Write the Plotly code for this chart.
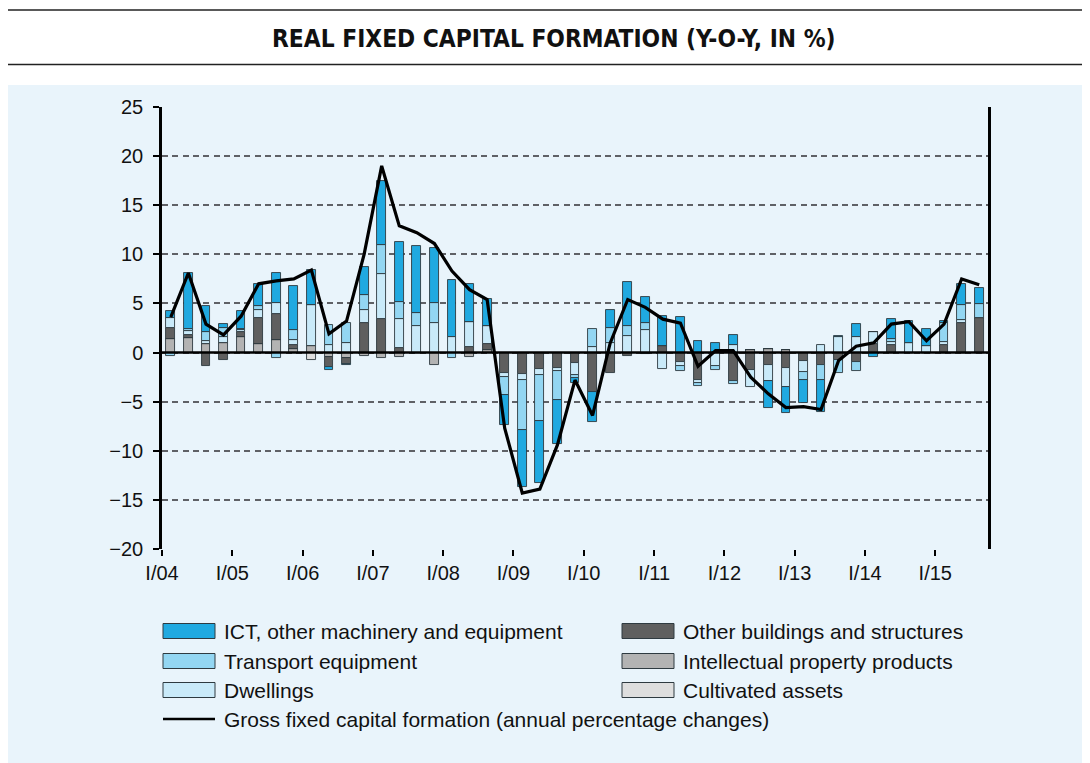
import plotly.graph_objects as go

quarters = [f"{q}/{y:02d}" for y in range(4, 16) for q in ["I", "II", "III", "IV"]][:47]
tick_labels = ["I/04", "I/05", "I/06", "I/07", "I/08", "I/09", "I/10", "I/11", "I/12", "I/13", "I/14", "I/15"]

# contributions (percentage points), one value per quarter, I/04 .. III/15
intellectual = [1.35, 1.45, 0.9, 0.95, 1.55, 0.9, 1.3, 0.35, 0.7, -0.5,
                -0.6, -0.35, -0.55, -0.5, 0, -1.25, 0, -0.45, 0.3, 0,
                0, 0, 0, 0, 0, 0, 0, 0, 0, 0,
                0, 0, 0, 0.25, 0.4, 0.25, 0, 0, 0, 0,
                0, 0, 0, 0, 0, 0, 0]
cultivated = [0, 0, 0, 0, 0, 0, 0, 0, -0.75, 0,
              0, 0, 0, 0, 0, 0, 0, 0, 0, 0,
              0, 0, 0, 0, 0, 0, 0, 0, 0, 0,
              0, 0, 0, 0, 0, 0, 0, 0, 0, 0,
              0, 0, 0, 0, 0, 0, 0]
other_buildings = [1.2, 0.35, -1.35, -0.75, 0.55, 2.6, 2.65, 0.45, 0, -1.0,
                   -0.55, 3.0, 3.4, 0.45, 0, 0, 0, 0.55, 0.55, -2.1,
                   -2.2, -1.7, -1.6, -1.1, -4.0, -2.05, -0.4, -0.1, 0.7, -1.0,
                   -2.8, 0, -2.85, -1.75, -1.25, -1.55, -0.9, -1.3, -0.8, -0.95,
                   0.9, 0.75, 0, 0, 0.75, 3.05, 3.5]
dwellings = [1.0, 0.35, 0.3, 0.6, 0.15, 0.85, 1.1, 0.5, 4.1, 0.8,
             1.0, 1.35, 4.6, 2.95, 2.7, 3.0, 1.55, 2.6, 1.85, -0.4,
             -0.55, -0.6, -0.25, -1.15, 0.6, 1.0, 1.7, 2.25, -1.7, -0.4,
             -0.3, -1.4, 0.75, -1.75, -1.6, -2.0, -1.1, 0.8, 1.55, 1.55,
             1.2, 0.35, 1.0, 0.7, 0.3, 0.25, 0]
transport = [-0.4, 0.25, 0.85, 0.9, 0.15, 0.35, -0.55, 1.0, 0, 2.0,
             2.05, 1.5, 2.9, 1.7, 1.3, 2.0, -0.6, 0, 0, -1.8,
             -5.15, -4.65, -3.0, -0.35, 1.8, 1.55, 1.0, 0.8, 0, -0.5,
             -0.35, -0.4, -0.3, 0, 0, 0, -0.8, -1.45, -1.3, -0.95,
             0, 0.25, 0, 0, 2.0, 1.55, 1.45]
ict = [0.7, 5.7, 2.65, 0.45, 1.85, 2.3, 3.05, 4.5, 3.6, -0.3,
       -0.15, 2.9, 6.6, 6.2, 6.8, 5.65, 5.85, 3.8, 2.75, -3.1,
       -5.8, -6.3, -4.5, -0.5, -3.05, 1.75, 4.5, 2.65, 3.05, 3.6,
       1.2, 1.0, 1.05, 0, -2.75, -2.65, -2.3, -3.3, 0.15, 1.35,
       -0.5, 2.05, 2.2, 1.7, 0.15, 2.15, 1.6]
gfcf = [3.6, 8.1, 2.9, 1.8, 3.7, 7.0, 7.3, 7.5, 8.4, 1.9,
        3.2, 10.0, 19.0, 12.9, 12.2, 11.1, 8.3, 6.4, 5.4, -7.7,
        -14.3, -13.9, -9.4, -2.8, -6.4, 0.95, 5.4, 4.6, 3.4, 3.0,
        -1.4, 0.2, 0.2, -2.5, -4.2, -5.6, -5.5, -5.8, -0.8, 0.65,
        1.0, 2.9, 3.15, 1.2, 2.9, 7.5, 6.9]

series = [
    ("Intellectual property products", intellectual, "#b3b3b3"),
    ("Cultivated assets", cultivated, "#dedede"),
    ("Other buildings and structures", other_buildings, "#5f5f5f"),
    ("Dwellings", dwellings, "#c9eaf9"),
    ("Transport equipment", transport, "#93d6f2"),
    ("ICT, other machinery and equipment", ict, "#20a9e0"),
]

xpos = [i + 0.5 for i in range(len(quarters))]

fig = go.Figure()
for name, vals, col in series:
    fig.add_trace(go.Bar(
        x=xpos, y=vals, name=name, width=0.5,
        marker=dict(color=col, line=dict(color="#2e3a40", width=0.9)),
        showlegend=False, customdata=quarters,
    ))
fig.add_trace(go.Scatter(
    x=xpos, y=gfcf, mode="lines", name="Gross fixed capital formation (annual percentage changes)",
    line=dict(color="black", width=3.2), showlegend=False, customdata=quarters,
))

# page coordinates (the page body adds an 8px margin around the figure)
OFF = 8
L, R, T, B = 162, 988, 107, 549
PAGE_W, PAGE_H = 1090, 763
W, H = PAGE_W - OFF, PAGE_H - OFF


def px(x):
    return (x - L) / (R - L)


def py(y):
    return (B - y) / (B - T)


shapes = []
# panel background
shapes.append(dict(type="rect", xref="paper", yref="paper", x0=px(OFF), x1=px(PAGE_W + 10),
                   y0=py(85), y1=py(PAGE_H + 10), fillcolor="#e9f4fb", line=dict(width=0), layer="below"))
# title rules
for yy in (10, 64.5):
    shapes.append(dict(type="line", xref="paper", yref="paper", x0=px(OFF), x1=px(PAGE_W + 10),
                       y0=py(yy), y1=py(yy), line=dict(color="#222222", width=1.6)))
# zero line
shapes.append(dict(type="line", xref="paper", yref="y", x0=0, x1=1, y0=0, y1=0,
                   line=dict(color="black", width=2.6), layer="above"))

annotations = [dict(text="REAL FIXED CAPITAL FORMATION (Y-O-Y, IN %)", xref="paper", yref="paper",
                    x=px(554), y=py(38), xanchor="center", yanchor="middle", showarrow=False,
                    font=dict(family="Liberation Sans Narrow, DejaVu Sans Condensed, Arial Narrow, sans-serif",
                              size=24.3, color="#111111", weight="bold"))]

legend_font = dict(family="Liberation Sans, Arial, sans-serif", size=21, color="#111111")
legend_items = [
    ("ICT, other machinery and equipment", "#20a9e0", 163, 631),
    ("Transport equipment", "#93d6f2", 163, 661),
    ("Dwellings", "#c9eaf9", 163, 690),
    ("Other buildings and structures", "#5f5f5f", 622, 631),
    ("Intellectual property products", "#b3b3b3", 622, 661),
    ("Cultivated assets", "#dedede", 622, 690),
]
for name, col, x0, yc in legend_items:
    shapes.append(dict(type="rect", xref="paper", yref="paper", x0=px(x0), x1=px(x0 + 52),
                       y0=py(yc - 7.5), y1=py(yc + 7.5), fillcolor=col,
                       line=dict(color="#2e3a40", width=1)))
    annotations.append(dict(text=name, xref="paper", yref="paper", x=px(x0 + 59), y=py(yc),
                            xanchor="left", yanchor="middle", showarrow=False, font=legend_font))
shapes.append(dict(type="line", xref="paper", yref="paper", x0=px(163), x1=px(215),
                   y0=py(719), y1=py(719), line=dict(color="black", width=2.6)))
annotations.append(dict(text="Gross fixed capital formation (annual percentage changes)", xref="paper", yref="paper",
                        x=px(222), y=py(719), xanchor="left", yanchor="middle", showarrow=False,
                        font=legend_font))

fig.update_layout(
    width=W, height=H,
    margin=dict(l=L - OFF, r=PAGE_W - R, t=T - OFF, b=PAGE_H - B, pad=0),
    paper_bgcolor="white", plot_bgcolor="rgba(0,0,0,0)",
    barmode="relative", bargap=0,
    shapes=shapes, annotations=annotations,
    font=dict(family="Liberation Sans, Arial, sans-serif", size=20, color="#111111"),
    xaxis=dict(range=[0, 47], tickmode="array", tickvals=[4 * k for k in range(12)], ticktext=tick_labels,
               showgrid=False, zeroline=False, showline=False, ticks="outside", ticklen=6,
               tickwidth=2, tickcolor="black", tickfont=dict(size=20)),
    yaxis=dict(range=[-20, 25], tick0=0, dtick=5, showgrid=True, gridcolor="#5f6166", gridwidth=1.5,
               griddash="6px,4.3px", zeroline=False, showline=True, linecolor="black", linewidth=2.5,
               mirror=True, ticks="outside", ticklen=6, tickwidth=2, tickcolor="black",
               ticklabelstandoff=6, tickfont=dict(size=20)),
    hovermode="x",
)

fig.write_html("out.html")
